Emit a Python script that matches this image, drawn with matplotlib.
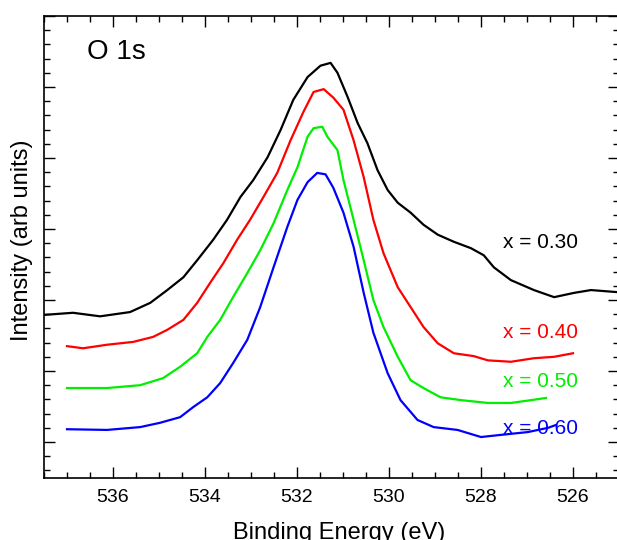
import numpy as np
import matplotlib
matplotlib.use("Agg")
import matplotlib.pyplot as plt
from matplotlib.ticker import MultipleLocator, NullFormatter

plt.rcParams['font.family'] = ['Liberation Sans', 'DejaVu Sans']

# Espectros O 1s (energía en eV, intensidad en u.a.)
be_030 = [537.50, 536.87, 536.28, 535.63, 535.19, 534.82, 534.47, 534.17, 533.82,
          533.52, 533.23, 532.95, 532.64, 532.36, 532.08, 531.77, 531.49, 531.27,
          531.12, 530.90, 530.68, 530.47, 530.25, 530.03, 529.81, 529.53, 529.25,
          528.94, 528.59, 528.22, 527.94, 527.72, 527.35, 526.85, 526.41, 525.98,
          525.61, 525.02]
i_030 = [1.79, 1.82, 1.77, 1.83, 1.96, 2.14, 2.32, 2.56, 2.85,
         3.13, 3.45, 3.69, 4.01, 4.39, 4.82, 5.14, 5.30, 5.34,
         5.20, 4.86, 4.49, 4.21, 3.83, 3.55, 3.37, 3.23, 3.06,
         2.92, 2.82, 2.73, 2.63, 2.46, 2.28, 2.14, 2.04, 2.10,
         2.14, 2.11]

be_040 = [537.00, 536.65, 536.13, 535.56, 535.13, 534.82, 534.47, 534.17, 533.89,
          533.60, 533.30, 533.02, 532.73, 532.43, 532.14, 531.86, 531.64, 531.42,
          531.21, 530.99, 530.77, 530.55, 530.34, 530.12, 529.81, 529.53, 529.25,
          528.94, 528.59, 528.16, 527.85, 527.35, 526.85, 526.41, 526.00]
i_040 = [1.35, 1.32, 1.37, 1.41, 1.48, 1.58, 1.72, 1.96, 2.24,
         2.52, 2.85, 3.13, 3.45, 3.79, 4.25, 4.65, 4.93, 4.97,
         4.85, 4.68, 4.25, 3.73, 3.13, 2.66, 2.18, 1.90, 1.62,
         1.39, 1.25, 1.21, 1.15, 1.13, 1.18, 1.20, 1.25]

be_050 = [537.00, 536.13, 535.41, 534.91, 534.54, 534.17, 533.95, 533.67, 533.39,
          533.08, 532.80, 532.51, 532.21, 531.99, 531.77, 531.64, 531.45, 531.34,
          531.12, 530.99, 530.77, 530.55, 530.34, 530.12, 529.81, 529.53, 529.25,
          528.88, 528.44, 527.85, 527.35, 526.91, 526.59]
i_050 = [0.76, 0.76, 0.80, 0.90, 1.06, 1.25, 1.48, 1.72, 2.04,
         2.38, 2.70, 3.08, 3.55, 3.87, 4.30, 4.42, 4.44, 4.30,
         4.11, 3.69, 3.13, 2.56, 2.00, 1.62, 1.20, 0.87, 0.76,
         0.63, 0.59, 0.55, 0.55, 0.59, 0.62]

be_060 = [537.00, 536.13, 535.41, 534.98, 534.54, 534.26, 533.95, 533.67, 533.39,
          533.08, 532.80, 532.51, 532.21, 531.99, 531.77, 531.56, 531.38, 531.21,
          530.99, 530.77, 530.55, 530.34, 530.03, 529.75, 529.38, 529.03, 528.51,
          528.00, 527.57, 526.98, 526.54, 526.37]
i_060 = [0.18, 0.17, 0.21, 0.27, 0.35, 0.49, 0.63, 0.83, 1.11,
         1.44, 1.90, 2.46, 3.03, 3.41, 3.66, 3.79, 3.77, 3.58,
         3.23, 2.75, 2.10, 1.54, 0.97, 0.59, 0.31, 0.21, 0.17,
         0.07, 0.10, 0.14, 0.20, 0.24]

etiquetas = ['x = 0.30', 'x = 0.40', 'x = 0.50', 'x = 0.60']
colores = ['black', 'red', '#00ee00', 'blue']
pos_etiqueta = [0.510, 0.315, 0.207, 0.107]

fig = plt.figure(figsize=(6.17, 5.40), dpi=100)
ax = fig.add_axes([44/617, 62.5/540, 575/617, 461.5/540])

series = [(be_030, i_030), (be_040, i_040), (be_050, i_050), (be_060, i_060)]
for (be, inten), c in zip(series, colores):
    ax.plot(be, inten, color=c, linewidth=1.6)

for lab, c, yp in zip(etiquetas, colores, pos_etiqueta):
    ax.text(0.798, yp, lab, color=c, fontsize=15, transform=ax.transAxes,
            ha='left', va='center')

ax.text(0.075, 0.922, 'O 1s', fontsize=20, transform=ax.transAxes,
        ha='left', va='center')

ax.set_xlim(537.5, 525.0)
ax.set_ylim(-0.5, 6.0)

ax.xaxis.set_major_locator(MultipleLocator(2))
ax.xaxis.set_minor_locator(MultipleLocator(0.5))
ax.yaxis.set_major_locator(MultipleLocator(1))
ax.yaxis.set_minor_locator(MultipleLocator(0.2))
ax.yaxis.set_major_formatter(NullFormatter())

ax.tick_params(which='both', direction='in', top=True, right=True, width=1.0)
ax.tick_params(which='major', length=8, labelsize=14, pad=8)
ax.tick_params(which='minor', length=4)
for s in ax.spines.values():
    s.set_linewidth(1.2)

ax.set_xlabel('Binding Energy (eV)', fontsize=17)
ax.set_ylabel('Intensity (arb units)', fontsize=17)
ax.xaxis.set_label_coords(0.513, -0.097)
ax.yaxis.set_label_coords(-0.019, 0.515)

plt.savefig('out.png', dpi=100)
